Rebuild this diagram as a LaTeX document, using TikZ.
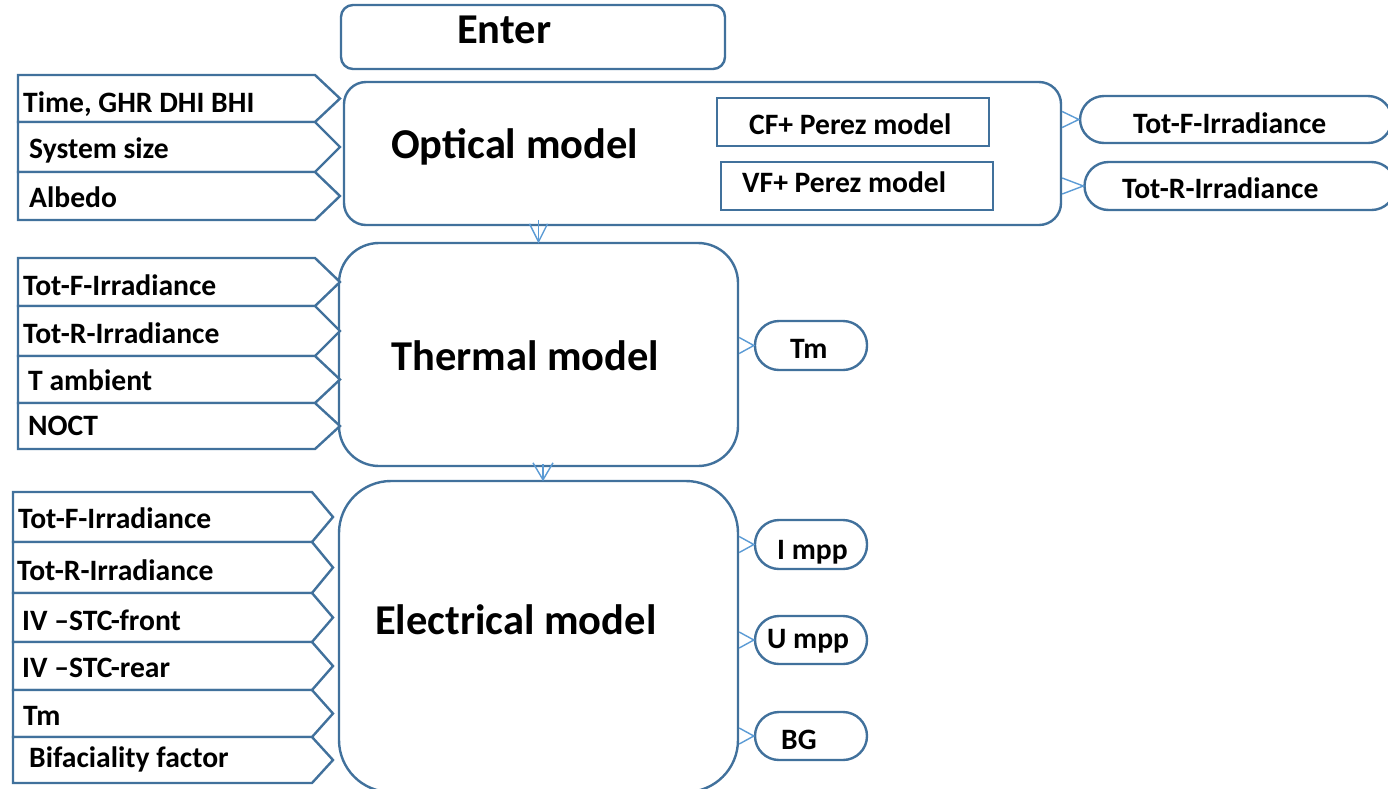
\documentclass[tikz,border=0pt]{standalone}
\usepackage{fontspec}
\setmainfont{Carlito}
\definecolor{edge}{RGB}{65,113,156}
\definecolor{link}{RGB}{91,155,213}

% one input tab: name, left x, notch x, tip x, top y, bottom y, text x, text baseline, text
\newcommand\inputtab[9]{%
  \draw[intab] (#2,#5) -- (#3,#5) -- (#4,{(#5+#6)/2}) -- (#3,#6) -- (#2,#6) -- cycle;
  \node[lbl] (#1) at (#7,#8) {#9};}

% open barb pointing right from the edge of block #1 to the west side of node #2
\newcommand\sidebarb[2]{%
  \draw[barb] ([yshift=8pt]#2.west -| #1.east) -- (#2.west) -- ([yshift=-8pt]#2.west -| #1.east);}

\begin{document}
\begin{tikzpicture}[x=1pt,y=-1pt,
  box/.style={draw=edge, line width=2.4pt, fill=white, inner sep=0pt},
  pill/.style={box, rounded corners=24pt},
  intab/.style={draw=edge, line width=2.4pt, fill=white, line join=miter},
  ttl/.style={font=\fontsize{42.5}{50}\selectfont\bfseries, inner sep=0pt, anchor=base west},
  lbl/.style={font=\fontsize{29.6}{35}\selectfont\bfseries, inner sep=0pt, anchor=base west},
  barb/.style={draw=link, line width=1.4pt, line join=miter}]

\useasboundingbox (0,0) rectangle (1388,788);
\clip (0,0) rectangle (1388,788);
\fill[white] (0,0) rectangle (1388,788);

% ---------- main blocks ----------
\node[box, rounded corners=12pt, minimum width=384pt, minimum height=64pt] (enter) at (533,37) {};
\node[ttl] (enter-t) at (457,43) {Enter};

\node[box, rounded corners=22pt, minimum width=717pt, minimum height=143pt] (optical) at (702.5,153.5) {};
\node[ttl] (optical-t) at (391,158) {Optical model};
\node[box, minimum width=272pt, minimum height=48pt] (cf) at (853,122) {};
\node[lbl] (cf-t) at (749,134) {CF+ Perez model};
\node[box, minimum width=272pt, minimum height=48pt] (vf) at (857,186) {};
\node[lbl] (vf-t) at (742,192) {VF+ Perez model};

\node[box, rounded corners=40pt, minimum width=399pt, minimum height=223pt] (thermal) at (538.5,354.5) {};
\node[ttl] (thermal-t) at (391,370) {Thermal model};

\node[box, rounded corners=52pt, minimum width=399pt, minimum height=311pt] (electrical) at (538.5,636.5) {};
\node[ttl] (electrical-t) at (375,634) {Electrical model};

% ---------- inputs ----------
\inputtab{in-time}{18}{315}{340}{75}{122}{23}{112}{Time, GHR DHI BHI}
\inputtab{in-size}{18}{315}{340}{122}{172}{29}{158}{System size}
\inputtab{in-albedo}{18}{315}{340}{172}{220}{29}{207}{Albedo}

\inputtab{th-f}{18}{315}{340}{258}{306}{23}{295}{Tot-F-Irradiance}
\inputtab{th-r}{18}{315}{340}{306}{356}{23}{343}{Tot-R-Irradiance}
\inputtab{th-amb}{18}{315}{340}{356}{403}{28}{390}{T ambient}
\inputtab{th-noct}{18}{315}{340}{403}{449}{28}{435}{NOCT}

\inputtab{el-f}{13}{312}{333}{492}{542}{18}{528}{Tot-F-Irradiance}
\inputtab{el-r}{13}{312}{333}{542}{593}{17}{580}{Tot-R-Irradiance}
\inputtab{el-front}{13}{312}{333}{593}{642}{22}{630}{IV –STC-front}
\inputtab{el-rear}{13}{312}{333}{642}{690}{22}{677}{IV –STC-rear}
\inputtab{el-tm}{13}{312}{333}{690}{737}{23}{725}{Tm}
\inputtab{el-bif}{13}{312}{333}{737}{783}{29}{767}{Bifaciality factor}

% ---------- outputs ----------
\node[pill, minimum width=312pt, minimum height=47pt] (totf) at (1236,119.5) {};
\node[lbl] (totf-t) at (1133,133) {Tot-F-Irradiance};
\node[pill, minimum width=311pt, minimum height=48pt] (totr) at (1240,186) {};
\node[lbl] (totr-t) at (1122,198) {Tot-R-Irradiance};

\node[pill, minimum width=112pt, minimum height=49pt] (tm) at (811,345.5) {};
\node[lbl] (tm-t) at (790,358) {Tm};

\node[pill, minimum width=112pt, minimum height=49pt] (impp) at (811,544.5) {};
\node[lbl] (impp-t) at (777,559) {I mpp};
\node[pill, minimum width=112pt, minimum height=48pt] (umpp) at (811,640) {};
\node[lbl] (umpp-t) at (767,648) {U mpp};
\node[pill, minimum width=112pt, minimum height=48pt] (bg) at (811,736) {};
\node[lbl] (bg-t) at (781,749) {BG};

% ---------- connectors ----------
\sidebarb{optical}{totf}
\sidebarb{optical}{totr}
\sidebarb{thermal}{tm}
\sidebarb{electrical}{impp}
\sidebarb{electrical}{umpp}
\sidebarb{electrical}{bg}

% optical -> thermal
\coordinate (o2t) at (538.5,220);
\coordinate (o2t-tip) at (thermal.north);
\draw[barb] (o2t) -- (o2t-tip);
\draw[barb] ([xshift=-9pt,yshift=18pt]o2t-tip) -- (o2t-tip) -- ([xshift=9pt,yshift=18pt]o2t-tip);

% thermal -> electrical
\coordinate (t2e) at (543,464);
\coordinate (t2e-tip) at (electrical.north -| t2e);
\draw[barb] (t2e) -- (t2e-tip);
\draw[barb] ([xshift=-10pt,yshift=17pt]t2e-tip) -- (t2e-tip) -- ([xshift=10pt,yshift=17pt]t2e-tip);
\end{tikzpicture}
\end{document}
